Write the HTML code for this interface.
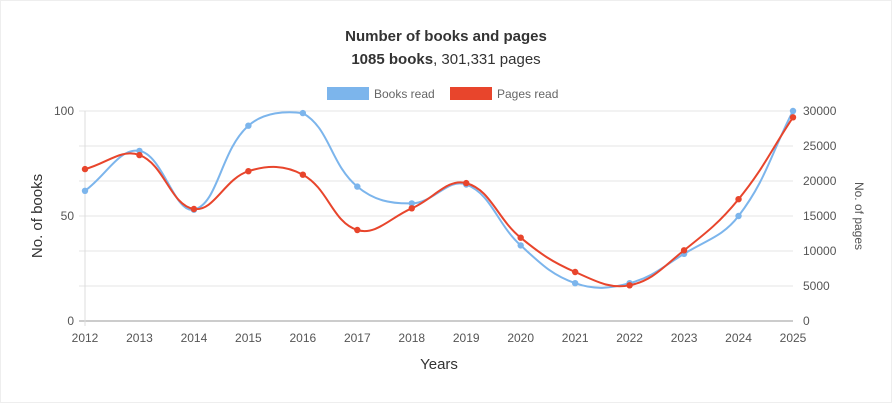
<!DOCTYPE html>
<html><head><meta charset="utf-8"><style>
html,body{margin:0;padding:0;background:#fff;}
body{width:892px;height:403px;overflow:hidden;font-family:"Liberation Sans",sans-serif;}
svg text{font-family:"Liberation Sans",sans-serif;}
</style></head><body>
<svg id="chart" width="892" height="403">
<rect x="0.5" y="0.5" width="891" height="402" fill="#fff" stroke="#eee"/>
<text x="446" y="41" text-anchor="middle" font-size="15" font-weight="bold" fill="#333">Number of books and pages</text>
<text x="446" y="64" text-anchor="middle" font-size="15" fill="#333"><tspan font-weight="bold">1085 books</tspan>, 301,331 pages</text>
<g>
<g><rect x="327" y="87" width="42" height="13" fill="#7cb5ec"/><text x="374" y="98" font-size="12" fill="#666">Books read</text></g>
<g><rect x="450" y="87" width="42" height="13" fill="#e8452c"/><text x="497" y="98" font-size="12" fill="#666">Pages read</text></g>
</g>
<g id="grid"></g>
<g id="axes"></g>
<g id="series"></g>
<text x="42" y="216" text-anchor="middle" font-size="15" fill="#333" transform="rotate(-90 42 216)">No. of books</text>
<text x="855" y="216" text-anchor="middle" font-size="12" fill="#555" transform="rotate(90 855 216)">No. of pages</text>
<text x="439" y="369" text-anchor="middle" font-size="15" fill="#333">Years</text>
</svg>
<script>
const years=[2012,2013,2014,2015,2016,2017,2018,2019,2020,2021,2022,2023,2024,2025];
const books=[62,81,53,93,99,64,56,65,36,18,18,32,50,100];
const pages=[21700,23700,16000,21400,20900,13000,16100,19700,11900,7000,5100,10100,17400,29100];
const leftTicks=[0,50,100];
const rightTicks=[0,5000,10000,15000,20000,25000,30000];
const NS="http://www.w3.org/2000/svg";
const X0=85,X1=793,Y0=321,Y1=111;
const xs=i=>X0+(X1-X0)*i/(years.length-1);
const yl=v=>Y0-(Y0-Y1)*v/100;
const yr=v=>Y0-(Y0-Y1)*v/30000;
function mk(tag,attrs,parent){const e=document.createElementNS(NS,tag);for(const k in attrs)e.setAttribute(k,attrs[k]);parent.appendChild(e);return e;}
const grid=document.getElementById('grid'),axes=document.getElementById('axes'),series=document.getElementById('series');
rightTicks.forEach(t=>{const l=mk('line',{x1:X0-6,x2:X1,y1:yr(t),y2:yr(t),stroke:t===0?'#999':'#e4e4e4'},grid);


const tx=mk('text',{x:X1+10,y:yr(t)+4,'font-size':12,fill:'#555'},axes);tx.textContent=t;

});
const ax=mk('line',{x1:X0,x2:X0,y1:Y1,y2:Y0+5,stroke:'#ddd'},grid);


leftTicks.forEach(t=>{const tx=mk('text',{x:X0-11,y:yl(t)+4,'font-size':12,fill:'#555','text-anchor':'end'},axes);tx.textContent=t;

});
years.forEach((y,i)=>{
const tx=mk('text',{x:xs(i),y:Y0+21,'font-size':12,fill:'#555','text-anchor':'middle'},axes);tx.textContent=y;

});
const cl=v=>Math.max(Y1,Math.min(Y0,v));
function path(pts){const t=0.4;let d='M'+pts[0][0]+','+pts[0][1];const cps=pts.map((p,i)=>{const pr=pts[i-1]||p,nx=pts[i+1]||p;const d01=Math.hypot(p[0]-pr[0],p[1]-pr[1]),d12=Math.hypot(nx[0]-p[0],nx[1]-p[1]);const s=d01+d12||1;const fa=t*d01/s,fb=t*d12/s;return{p:[p[0]-fa*(nx[0]-pr[0]),cl(p[1]-fa*(nx[1]-pr[1]))],n:[p[0]+fb*(nx[0]-pr[0]),cl(p[1]+fb*(nx[1]-pr[1]))]};});
for(let i=1;i<pts.length;i++){d+=' C'+cps[i-1].n.join(',')+' '+cps[i].p.join(',')+' '+pts[i].join(',');}return d;}
function draw(vals,yf,color,name){const pts=vals.map((v,i)=>[xs(i),yf(v)]);
const p=mk('path',{d:path(pts),fill:'none',stroke:color,'stroke-width':2},series);


pts.forEach(q=>{const c=mk('circle',{cx:q[0],cy:q[1],r:3.2,fill:color},series);

});}
draw(books,yl,'#7cb5ec','books');
draw(pages,yr,'#e8452c','pages');
</script>
</body></html>
